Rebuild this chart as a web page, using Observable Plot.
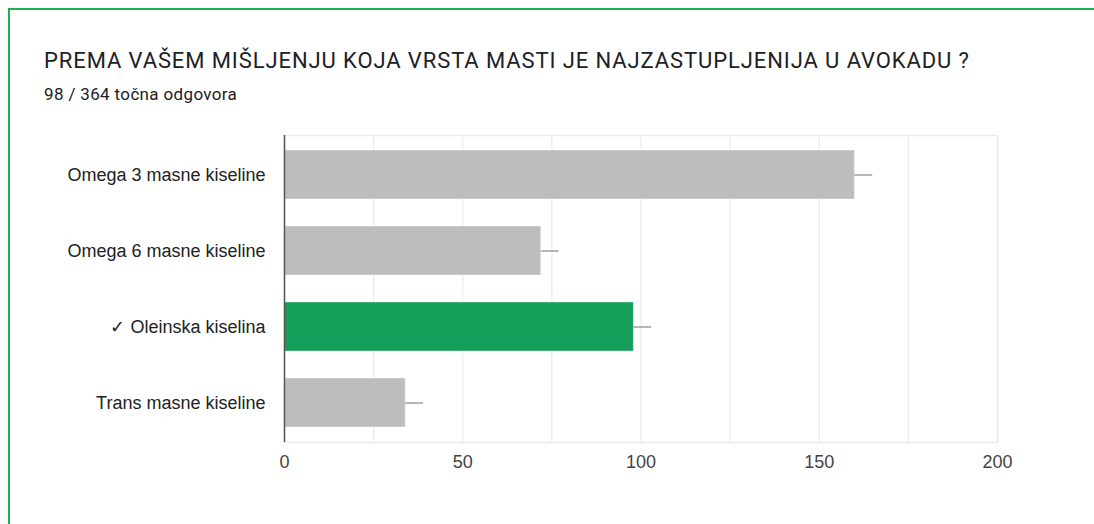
<!DOCTYPE html>
<html>
<head>
<meta charset="utf-8">
<script src="https://cdn.jsdelivr.net/npm/d3@7"></script>
<script src="https://cdn.jsdelivr.net/npm/@observablehq/plot@0.6"></script>
<style>
  html, body { margin: 0; padding: 0; background: #fff; width: 1094px; height: 524px; overflow: hidden; }
  #frame { position: absolute; left: 8px; top: 8px; width: 1200px; height: 600px; border-left: 2px solid #1db350; border-top: 2px solid #1db350; }
  #title { position: absolute; left: 44px; top: 48px; font-family: Roboto, "Open Sans", sans-serif; font-size: 22px; color: #202124; white-space: nowrap; letter-spacing: 0.9px; }
  #subtitle { position: absolute; left: 44px; top: 84px; font-family: Roboto, "Open Sans", sans-serif; font-size: 17px; color: #202124; white-space: nowrap; letter-spacing: 0.35px; }
  #chart { position: absolute; left: 0; top: 120px; }
</style>
</head>
<body>
<div id="frame"></div>
<div id="title">PREMA VAŠEM MIŠLJENJU KOJA VRSTA MASTI JE NAJZASTUPLJENIJA U AVOKADU ?</div>
<div id="subtitle">98 / 364 točna odgovora</div>
<div id="chart"></div>
<script>
const categories = ["Omega 3 masne kiseline", "Omega 6 masne kiseline", "✓ Oleinska kiselina", "Trans masne kiseline"];
const counts = [160, 72, 98, 34];
const correct = [false, false, true, false];
const xTicks = [0, 50, 100, 150, 200];
const gridTicks = [25, 50, 75, 100, 125, 150, 175, 200];
const whisker = 5;

const data = categories.map((c, i) => ({cat: c, value: counts[i], correct: correct[i]}));

const chart = Plot.plot({
  width: 1094,
  height: 362,
  marginLeft: 284,
  marginRight: 97,
  marginTop: 15,
  marginBottom: 40,
  style: {fontFamily: "'Liberation Sans', Arial, sans-serif", fontSize: "18px", color: "#222", background: "transparent"},
  x: {domain: [0, 200], ticks: xTicks, tickSize: 0, tickPadding: 13, label: null},
  y: {domain: categories, paddingInner: 0.35, paddingOuter: 0.18, tickSize: 0, tickPadding: 19, label: null},
  marks: [
    Plot.ruleX(gridTicks, {stroke: "#ebebeb", strokeWidth: 1.2}),
    Plot.frame({stroke: "#ebebeb", strokeWidth: 1.5}),
    Plot.barX(data, {y: "cat", x: "value", fill: d => d.correct ? "#139e59" : "#bdbdbd", stroke: "#ffffff", strokeOpacity: 0.4, strokeWidth: 1, inset: 0}),
    Plot.ruleY(data, {y: "cat", x1: "value", x2: d => d.value + whisker, stroke: "#9e9e9e", strokeWidth: 1.5}),
    Plot.ruleX([0], {stroke: "#555", strokeWidth: 1.5}),
    Plot.axisY({tickSize: 0, tickPadding: 19, fill: "#222", fontSize: 18}),
    Plot.axisX({ticks: xTicks, tickSize: 0, tickPadding: 13, fill: "#444", fontSize: 18})
  ]
});
document.getElementById("chart").appendChild(chart);
</script>
</body>
</html>
